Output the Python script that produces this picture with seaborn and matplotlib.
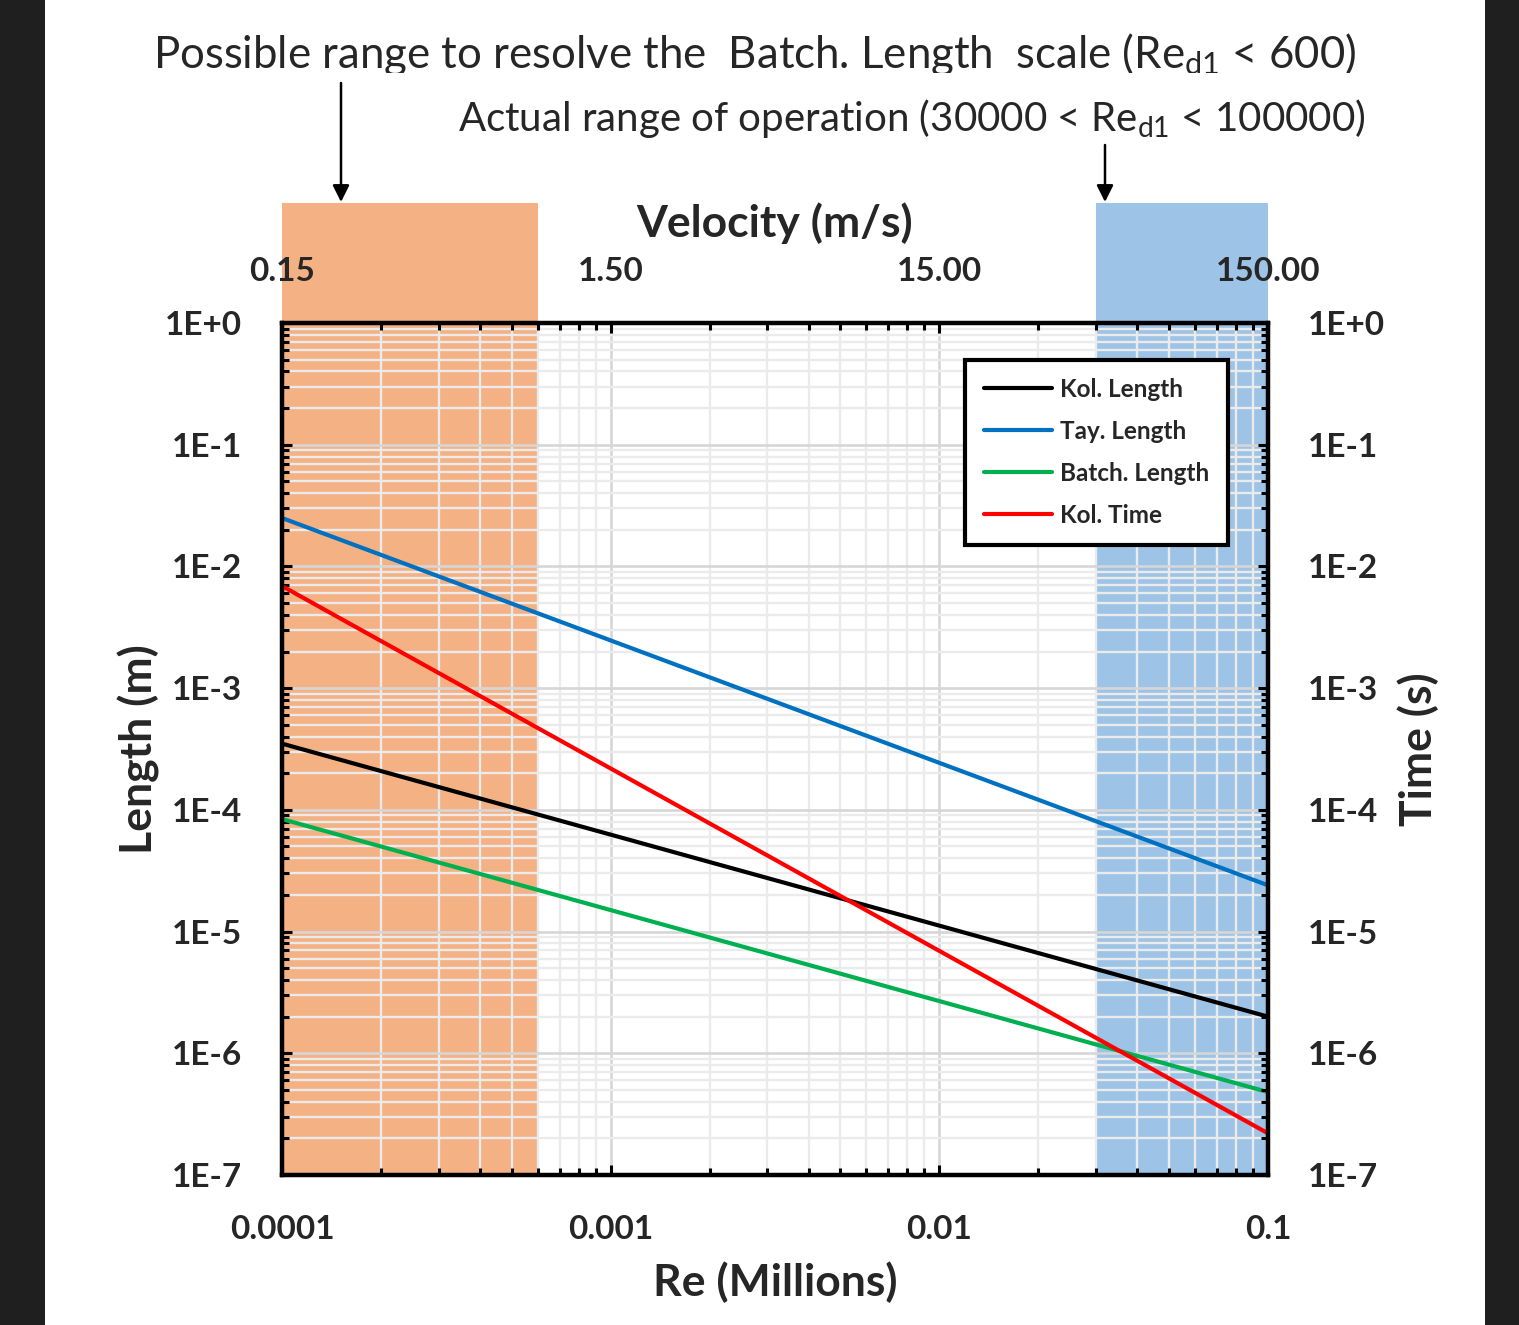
import numpy as np
import pandas as pd
import matplotlib
matplotlib.use("Agg")
import matplotlib.pyplot as plt
import matplotlib.ticker as mticker
from matplotlib.patches import Rectangle, FancyArrowPatch
from matplotlib.lines import Line2D
from matplotlib.transforms import Bbox, TransformedBbox
import seaborn as sns

# ---------------- data ----------------
re_millions = [1e-4, 1e-1]
kol_length = [3.5e-4, 2.0e-6]
tay_length = [2.5e-2, 2.4e-5]
batch_length = [8.4e-5, 4.8e-7]
kol_time = [6.9e-3, 2.2e-7]
series_names = ["Kol. Length", "Tay. Length", "Batch. Length", "Kol. Time"]
series_colors = ["#000000", "#0070C0", "#00B050", "#FF0000"]

x_ticks = [1e-4, 1e-3, 1e-2, 1e-1]
x_tick_labels = ["0.0001", "0.001", "0.01", "0.1"]
velocity_tick_labels = ["0.15", "1.50", "15.00", "150.00"]
y_ticks = [1e0, 1e-1, 1e-2, 1e-3, 1e-4, 1e-5, 1e-6, 1e-7]
y_tick_labels = ["1E+0", "1E-1", "1E-2", "1E-3", "1E-4", "1E-5", "1E-6", "1E-7"]

resolve_range = [1e-4, 6e-4]
operation_range = [3e-2, 1e-1]

df = pd.DataFrame({
    "Re": re_millions * 4,
    "value": kol_length + tay_length + batch_length + kol_time,
    "series": sum([[n] * len(re_millions) for n in series_names], []),
})

# ---------------- style ----------------
sns.set_theme(style="white")
plt.rcParams["font.family"] = ["Lato", "DejaVu Sans"]
plt.rcParams["mathtext.fontset"] = "custom"
plt.rcParams["mathtext.rm"] = "Lato"
plt.rcParams["mathtext.it"] = "Lato:italic"
plt.rcParams["mathtext.bf"] = "Lato:bold"

W, H = 1519, 1325
fig = plt.figure(figsize=(W / 100, H / 100), dpi=100)
fig.patch.set_facecolor("white")

def fx(px):
    return px / W

def fy(py):
    return 1 - py / H

# dark side strips
fig.patches.append(Rectangle((0, 0), fx(45), 1, transform=fig.transFigure,
                             facecolor="#1f1f1f", edgecolor="none", zorder=-5))
fig.patches.append(Rectangle((fx(1485), 0), 1 - fx(1485), 1, transform=fig.transFigure,
                             facecolor="#1f1f1f", edgecolor="none", zorder=-5))

ax_l, ax_r, ax_t, ax_b = 282, 1268, 323, 1175
ax = fig.add_axes([fx(ax_l), fy(ax_b), fx(ax_r) - fx(ax_l), fy(ax_t) - fy(ax_b)])
ax.set_xscale("log")
ax.set_yscale("log")
ax.set_xlim(1e-4, 1e-1)
ax.set_ylim(1e-7, 1e0)

# shaded ranges (extend above the plot area)
ext = 1 + (ax_t - 203) / (ax_b - ax_t)
for rng, col in [(resolve_range, "#F4B183"), (operation_range, "#9DC3E6")]:
    sp = ax.axvspan(rng[0], rng[1], ymin=0, ymax=ext, facecolor=col,
                    edgecolor="none", zorder=0.2)
    sp.set_clip_on(False)

# grid
ax.set_axisbelow(True)
ax.grid(which="minor", color="#ebebeb", lw=1.7, zorder=0.4)
ax.grid(which="major", color="#d6d6d6", lw=1.9, zorder=0.5)

sns.lineplot(data=df, x="Re", y="value", hue="series", hue_order=series_names,
             palette=dict(zip(series_names, series_colors)), lw=3.0, ax=ax,
             legend=False, zorder=3)

minor_loc = lambda: mticker.LogLocator(base=10, subs=np.arange(2, 10), numticks=100)
ax.xaxis.set_major_locator(mticker.FixedLocator(x_ticks))
ax.xaxis.set_major_formatter(mticker.FixedFormatter(x_tick_labels))
ax.xaxis.set_minor_locator(minor_loc())
ax.xaxis.set_minor_formatter(mticker.NullFormatter())
ax.yaxis.set_major_locator(mticker.FixedLocator(y_ticks))
ax.yaxis.set_major_formatter(mticker.FixedFormatter(y_tick_labels))
ax.yaxis.set_minor_locator(minor_loc())
ax.yaxis.set_minor_formatter(mticker.NullFormatter())

TICK_FS = 24
LABEL_FS = 32
tick_kw = dict(direction="in", color="black", width=2.2)
ax.tick_params(axis="x", which="major", length=7, pad=29, labelsize=TICK_FS, **tick_kw)
ax.tick_params(axis="y", which="major", length=7, pad=29, labelsize=TICK_FS, **tick_kw)
ax.tick_params(which="minor", length=5, **tick_kw)
for lab in ax.get_xticklabels() + ax.get_yticklabels():
    lab.set_fontweight("bold")

ax.set_xlabel("Re (Millions)", fontsize=LABEL_FS, fontweight="bold", labelpad=12)
ax.set_ylabel("Length (m)", fontsize=LABEL_FS, fontweight="bold", labelpad=3)

# right axis (Time)
ax2 = ax.twinx()
ax2.set_yscale("log")
ax2.set_ylim(1e-7, 1e0)
ax2.yaxis.set_major_locator(mticker.FixedLocator(y_ticks))
ax2.yaxis.set_major_formatter(mticker.FixedFormatter(y_tick_labels))
ax2.yaxis.set_minor_locator(minor_loc())
ax2.yaxis.set_minor_formatter(mticker.NullFormatter())
ax2.tick_params(which="major", length=7, pad=29, labelsize=TICK_FS, **tick_kw)
ax2.tick_params(which="minor", length=5, **tick_kw)
for lab in ax2.get_yticklabels():
    lab.set_fontweight("bold")
ax2.set_ylabel("Time (s)", fontsize=LABEL_FS, fontweight="bold", labelpad=9)

# top axis (Velocity)
ax3 = ax.twiny()
ax3.set_xscale("log")
ax3.set_xlim(1e-4, 1e-1)
ax3.xaxis.set_major_locator(mticker.FixedLocator(x_ticks))
ax3.xaxis.set_major_formatter(mticker.FixedFormatter(velocity_tick_labels))
ax3.xaxis.set_minor_locator(minor_loc())
ax3.xaxis.set_minor_formatter(mticker.NullFormatter())
ax3.tick_params(which="major", length=7, pad=27, labelsize=TICK_FS, **tick_kw)
ax3.tick_params(which="minor", length=5, **tick_kw)
for lab in ax3.get_xticklabels():
    lab.set_fontweight("bold")
ax3.set_xlabel("Velocity (m/s)", fontsize=LABEL_FS, fontweight="bold", labelpad=14)

for a in (ax, ax2, ax3):
    for s in a.spines.values():
        s.set_linewidth(3)
        s.set_color("black")
        s.set_zorder(5)

# legend
handles = [Line2D([], [], color=c, lw=3.0) for c in series_colors]
leg = ax3.legend(handles, series_names, loc="upper right",
                 bbox_to_anchor=(0.959, 0.957), borderaxespad=0,
                 frameon=True, fancybox=False, framealpha=1,
                 edgecolor="black", handlelength=2.8, handletextpad=0.35,
                 labelspacing=0.78, borderpad=0.75, prop={"size": 17.5, "weight": "bold"})
leg.get_frame().set_linewidth(3)
leg.set_zorder(10)

# annotations
t1 = fig.text(fx(153), fy(55), r"Possible range to resolve the  Batch. Length  scale (Re$_{\mathrm{d1}}$ < 600)",
              fontsize=31.5, ha="left", va="center")
t1.set_clip_on(True)
t1.set_clip_box(TransformedBbox(Bbox([[0, fy(73)], [1, 1]]), fig.transFigure))
fig.text(fx(1365), fy(118), r"Actual range of operation (30000 < Re$_{\mathrm{d1}}$ < 100000)",
         fontsize=29, ha="right", va="center")

for x0, y0, y1 in [(341, 83, 202), (1105, 145, 202)]:
    fig.add_artist(FancyArrowPatch(
        (fx(x0), fy(y0)), (fx(x0), fy(y1)), transform=fig.transFigure,
        arrowstyle="-|>,head_length=10,head_width=5", lw=1.8, color="black",
        shrinkA=0, shrinkB=0))

fig.savefig("out.png", dpi=100)
